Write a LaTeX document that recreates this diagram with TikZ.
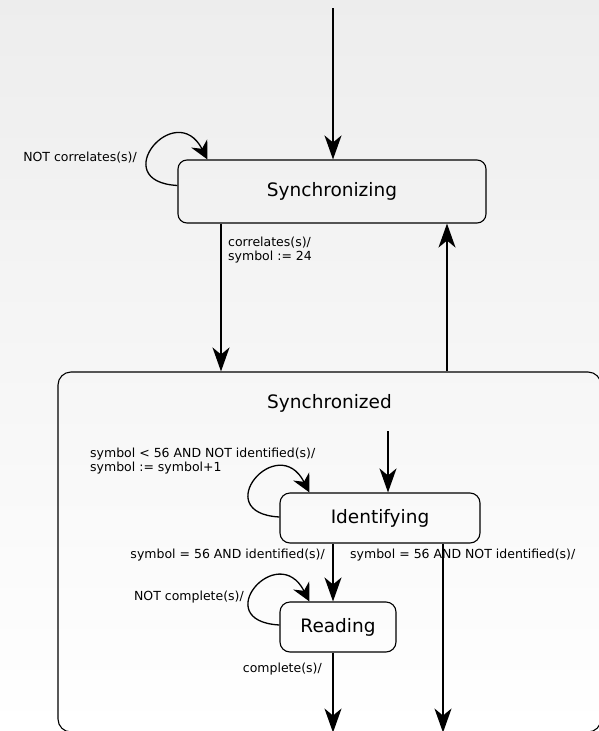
\documentclass[tikz,border=0pt]{standalone}
\usepackage{fontspec}
\setmainfont{DejaVu Sans}
\usetikzlibrary{arrows.meta,positioning}
\tikzset{
  state/.style={draw, rounded corners=9pt, line width=1.1pt, inner sep=0pt, font=\fontsize{18.5}{20}\selectfont},
  trans/.style={-{Stealth[length=24pt,width=17pt,inset=7pt]}, line width=1.7pt},
  selfloop/.style={-{Stealth[length=18pt,width=18pt,inset=6pt]}, line width=1.3pt},
  lbl/.style={inner sep=0pt, font=\fontsize{12.5}{13.5}\selectfont, align=left},
}

\begin{document}
\begin{tikzpicture}[x=1pt,y=-1pt]
  \shade[top color=black!7, bottom color=white] (0,0) rectangle (599,731);
  \useasboundingbox (0,0) rectangle (599,731);
  \clip (0,0) rectangle (599,731);
  % states
  \node[state, minimum width=308pt, minimum height=63pt] (sync) at (332,191.5) {Synchronizing};
  \node[state, rounded corners=13pt, minimum width=543pt, minimum height=360pt] (synced) at (329.5,552) {};
  \node[font=\fontsize{18.5}{20}\selectfont] (syncedlbl) at ([yshift=-32pt]synced.north) {Synchronized};
  \node[state, rounded corners=10pt, minimum width=200pt, minimum height=50pt] (ident) at (380,518) {Identifying};
  \node[state, rounded corners=10pt, minimum width=116pt, minimum height=50pt] (read) at (338,627) {Reading};
  % labels
  \node[lbl, anchor=east] (lnotcorr) at (137,158) {NOT correlates(s)/};
  \node[lbl, anchor=west] (lcorr) at (228,250) {correlates(s)/\\symbol := 24};
  \node[lbl, anchor=west] (lnotid) at (90,461) {symbol < 56 AND NOT identified(s)/\\symbol := symbol+1};
  \node[lbl, anchor=east] (lid) at (325,555) {symbol = 56 AND identified(s)/};
  \node[lbl, anchor=west] (lnotidout) at (350,555) {symbol = 56 AND NOT identified(s)/};
  \node[lbl, anchor=east] (lnotcomp) at (244,597) {NOT complete(s)/};
  \node[lbl, anchor=east] (lcomp) at (322,669) {complete(s)/};
  % transitions
  \coordinate (start) at (333,8);
  \coordinate (inner) at (388,431);
  \draw[trans] (start) -- (sync.north -| start);
  \draw[trans] ([xshift=-111pt]sync.south) -- ([xshift=-111pt]sync.south |- synced.north);
  \draw[trans] ([xshift=115pt]sync.south |- synced.north) -- ([xshift=115pt]sync.south);
  \draw[trans] (inner) -- (inner |- ident.north);
  \draw[trans] ([xshift=-47pt]ident.south) -- ([xshift=-47pt]ident.south |- read.north);
  \draw[trans] ([xshift=63pt]ident.south) -- ([xshift=63pt]ident.south |- synced.south);
  \draw[trans] ([xshift=-5pt]read.south) -- ([xshift=-5pt]read.south |- synced.south);
  \foreach \n/\dy in {sync/6, ident/1, read/2}
    \draw[selfloop] ([yshift=\dy pt]\n.west) .. controls +(-72,-4) and +(-32,-62) .. ([xshift=30pt]\n.north west);
\end{tikzpicture}
\end{document}
